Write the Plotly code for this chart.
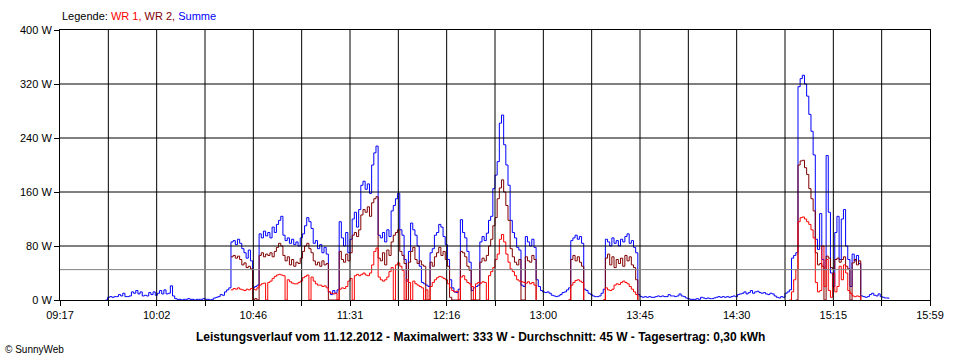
import plotly.graph_objects as go

# ---- data (minutes of the day, 1-minute steps) ----
summe_start = 578  # 09:38
summe = [
    0,
    4, 5, 4, 5, 5, 8, 6, 10, 5, 5, 6, 12, 10, 14, 9, 12, 6, 7, 6, 11,
    8, 12, 7, 10, 14, 9, 15, 9, 10, 21, 6, 2, 1,
    1, 0, 1, 1, 2, 1, 1, 0, 1, 1, 1, 2, 1, 1, 0, 1,
    3, 4, 5, 8, 7, 12, 15, 18,
    86, 88, 82, 90, 84, 76, 70, 62, 74, 58, 18, 20, 22,
    98, 92, 102, 95, 100, 92, 108, 100, 112, 118,
    124, 96, 88, 92, 84, 90, 82, 86, 80, 92,
    98, 110, 122, 116, 106, 84, 88, 76, 82, 70,
    78, 68, 12, 8, 14, 10, 15, 116, 92, 80,
    100, 70, 90, 120, 130, 108, 134, 170, 176, 164,
    172, 158, 200, 218, 228, 96, 92, 100, 86, 104,
    94, 132, 140, 150, 158,
    104, 96, 60, 28, 72, 114, 104, 96, 80, 50,
    26, 24, 22, 20, 70, 76, 96, 100, 112, 108,
    94, 82, 60, 30, 18, 12, 11, 16, 119, 100,
    92, 72, 56, 14, 18, 20, 22, 86, 94, 88,
    99, 118, 124, 165, 185, 205, 262, 274, 230, 200,
    170, 118, 100, 92, 78, 74, 22, 20, 94, 86,
    80, 90, 78, 30, 20, 14, 12,
    11, 12, 10, 7, 6, 5, 6, 8, 11, 12,
    15, 18, 88, 92, 96, 90, 94, 84, 16, 14,
    10, 8, 6, 5, 5, 6, 10, 16, 90, 86,
    80, 92, 84, 88, 80, 90, 86, 94, 98, 84,
    88, 78, 70, 8, 5, 4, 5, 4, 5, 4,
    4, 5, 6, 5, 6, 5, 5, 8, 6, 6,
    5, 6, 9, 6, 5, 3, 2, 1, 1, 1,
    2, 1, 4, 3, 2, 3, 2, 2, 3, 4,
    5, 4, 5, 4, 5, 4, 5, 6, 5, 8,
    9, 10, 12, 9, 11, 14, 10, 12, 13, 11,
    10, 11, 9, 8, 10, 9, 6, 4, 3, 5,
    4, 10, 12, 15,
    62, 66, 70, 316, 328, 333, 320, 302, 275, 250,
    215, 90, 75, 128, 60, 45, 214, 130, 40, 20,
    100, 124, 60, 120, 134, 80, 60, 20, 68, 58,
    66, 54, 6, 5, 4, 5, 8, 10, 7, 6,
    9, 5, 4, 3, 3, 2,
]

wr_start = 636  # 10:36
N = None
wr2 = [
    64, 66, 62, 65, 60, 52, 55, 48, 50, 46, 0, 2, 0,
    66, 70, 64, 68, 66, 70, 64, 72, 78, 84,
    80, 66, 58, 64, 52, 60, 50, 56, 54, 62,
    72, 80, 84, 76, 70, 58, 52, 56, 50, 58,
    52, 54, 0, 0, 0, 0, 0, 72, 60, 56,
    68, 58, 70, 96, 100, 94, 104, 126, 134, 130,
    138, 124, 144, 150, 153, 62, 58, 70, 52, 74,
    66, 86, 96, 100, 104,
    72, 66, 54, 0, 56, 72, 78, 60, 54, 58,
    52, 50, 0, 0, 56, 50, 64, 70, 78, 66,
    72, 60, 50, 4, 0, 0, 0, 0, 72, 70,
    64, 50, 44, 0, 0, 0, 0, 56, 62, 58,
    66, 80, 90, 110, 122, 150, 166, 178, 160, 140,
    118, 76, 64, 56, 52, 60, 0, 0, 64, 58,
    56, 66, 60, 0, N, N, N,
    N, N, N, N, N, N, N, N, N, N, N, 0,
    60, 66, 58, 64, 56, 50, 0,
    N, N, N, N, N, N, N, N, 0,
    62, 68, 52, 64, 48, 60, 54, 62, 50, 66, 58, 64, 52, 48, 30, 0,
] + [N] * 72 + [
    0,
    200, 206, 207, 196, 186, 165, 150, 132, 70, 52,
    54, 50, 0, 65, 62, 48, 46, 60, 62, 56,
    60, 64, 50, 46, 0, 55, 60, 52, 58, 0,
]

wr1 = [
    15, 17, 16, 18, 16, 15, 14, 16, 15, 17, 16, 15, 18,
    22, 24, 25, 0, 26, 28, 32, 35, 37, 38,
    37, 36, 0, 30, 27, 25, 24, 24, 26, 28,
    33, 35, 37, 0, 34, 28, 24, 22, 22, 20,
    21, 18, 12, 10, 9, 10, 0, 16, 18, 17,
    20, 28, 32, 0, 36, 38, 36, 38, 40, 37,
    36, 40, 52, 72, 77, 34, 30, 28, 30, 34,
    42, 48, 0, 52, 55,
    50, 44, 0, 30, 26, 0, 28, 24, 22, 20,
    18, 0, 15, 0, 20, 26, 30, 33, 35, 34,
    32, 30, 24, 18, 14, 12, 13, 0, 34, 36,
    30, 26, 24, 20, 0, 24, 26, 25, 27, 26,
    0, 36, 42, 48, 60, 68, 90, 97, 86, 68,
    56, 46, 42, 36, 30, 28, 27, 26, 25, 27,
    24, 26, 22, 0, N, N, N,
    N, N, N, N, N, N, N, N, N, N, N, 0,
    22, 26, 29, 30, 28, 26, 0,
    N, N, N, N, N, N, N, N, 0,
    18, 15, 14, 16, 22, 24, 23, 26, 28, 26, 24, 20, 16, 12, 8, 0,
] + [N] * 69 + [
    0,
    12, 30, 45, 116, 122, 123, 120, 116, 112, 104,
    92, 26, 12, 14, 80, 20, 60, 14, 4, 40,
    12, 20, 50, 30, 52, 40, 14, 10, 6, 5,
    6, 5, 0,
]

t_start, t_end = 557, 959  # 09:17 .. 15:59
tick_labels = ["09:17", "10:02", "10:46", "11:31", "12:16",
               "13:00", "13:45", "14:30", "15:15", "15:59"]
y_ticks = [0, 80, 160, 240, 320, 400]
average = 45

title_text = ("Leistungsverlauf vom 11.12.2012 - Maximalwert: 333 W - "
              "Durchschnitt: 45 W - Tagesertrag: 0,30 kWh")

# ---- figure ----
def times(start, vals):
    return [start + i for i in range(len(vals))]

fig = go.Figure()
fig.add_trace(go.Scatter(x=times(summe_start, summe), y=summe, mode="lines",
                         line=dict(color="#0000FF", width=1, shape="hv"),
                         name="Summe", connectgaps=False))
fig.add_trace(go.Scatter(x=times(wr_start, wr2), y=wr2, mode="lines",
                         line=dict(color="#800000", width=1, shape="hv"),
                         name="WR 2", connectgaps=False))
fig.add_trace(go.Scatter(x=times(wr_start, wr1), y=wr1, mode="lines",
                         line=dict(color="#FF0000", width=1, shape="hv"),
                         name="WR 1", connectgaps=False))

n_int = 2 * (len(tick_labels) - 1)
step = (t_end - t_start) / n_int
x_ticks = [t_start + i * step for i in range(n_int + 1)]
x_text = []
for i in range(n_int + 1):
    x_text.append(tick_labels[i // 2] if i % 2 == 0 else "")

shapes = []
for xv in x_ticks[1:-1]:
    shapes.append(dict(type="line", xref="x", yref="y", x0=xv, x1=xv, y0=0, y1=400,
                       line=dict(color="black", width=1), layer="above"))
for yv in y_ticks[1:-1]:
    shapes.append(dict(type="line", xref="x", yref="y", x0=t_start, x1=t_end, y0=yv, y1=yv,
                       line=dict(color="black", width=1), layer="above"))
shapes.append(dict(type="line", xref="x", yref="y", x0=t_start, x1=t_end,
                   y0=average, y1=average, line=dict(color="#808080", width=1), layer="above"))

font = "Liberation Sans, Arial, sans-serif"
fig.update_layout(
    width=960, height=360,
    margin=dict(l=60, r=30, t=30, b=60),
    paper_bgcolor="white", plot_bgcolor="white",
    showlegend=False,
    font=dict(family=font, size=11, color="black"),
    shapes=shapes,
    xaxis=dict(range=[t_start, t_end], tickmode="array", tickvals=x_ticks, ticktext=x_text,
               showgrid=False, zeroline=False, showline=True, linecolor="black", linewidth=1,
               mirror=True, ticks="outside", ticklen=5, tickcolor="black",
               tickfont=dict(size=11, family=font)),
    yaxis=dict(range=[0, 400], tickmode="array", tickvals=y_ticks,
               ticktext=[f"{v} W" for v in y_ticks],
               showgrid=False, zeroline=False, showline=True, linecolor="black", linewidth=1,
               mirror=True, ticks="outside", ticklen=5, tickcolor="black",
               tickfont=dict(size=11, family=font)),
    annotations=[
        dict(xref="paper", yref="paper", x=0, y=1 + 14 / 270, xanchor="left", yanchor="middle",
             showarrow=False, font=dict(size=11, family=font),
             text='Legende: <span style="color:#FF0000">WR 1,</span> '
                  '<span style="color:#800000">WR 2,</span> '
                  '<span style="color:#0000FF">Summe</span>'),
        dict(xref="paper", yref="paper", x=(480 - 60) / 870, y=-37 / 270,
             xanchor="center", yanchor="middle", showarrow=False,
             font=dict(size=12, family=font), text="<b>" + title_text + "</b>"),
        dict(xref="paper", yref="paper", x=-57 / 870, y=-49 / 270,
             xanchor="left", yanchor="middle", showarrow=False,
             font=dict(size=10, family=font), text="© SunnyWeb"),
    ],
)

fig.write_html("out.html", config={"displayModeBar": False},
               post_script="document.body.style.margin='0';")
